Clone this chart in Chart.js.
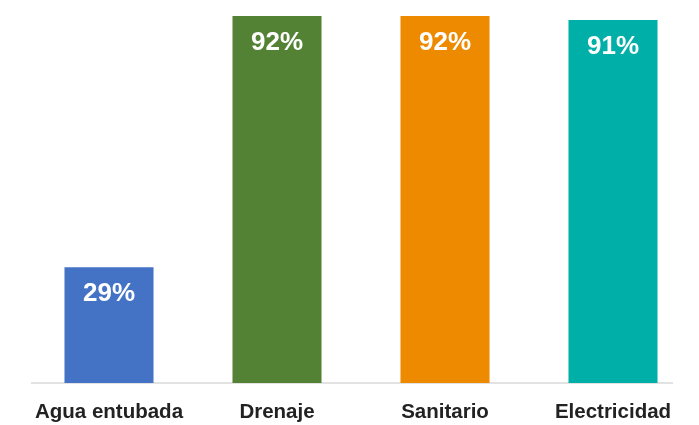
<!DOCTYPE html>
<html>
<head>
<meta charset="utf-8">
<script src="https://cdn.jsdelivr.net/npm/chart.js@4"></script>
<style>
  html, body { margin: 0; padding: 0; background: #ffffff; }
  #wrap { width: 699px; height: 425px; position: relative; }
</style>
</head>
<body>
<div id="wrap"><canvas id="c" width="699" height="425"></canvas></div>
<script>
const categories = ["Agua entubada", "Drenaje", "Sanitario", "Electricidad"];
const values = [29, 92, 92, 91];
const barColors = ["#4472C4", "#548235", "#EE8A00", "#00AFA8"];
const valueLabels = ["29%", "92%", "92%", "91%"];

const valueLabelPlugin = {
  id: "valueLabels",
  afterDatasetsDraw(chart) {
    const ctx = chart.ctx;
    const meta = chart.getDatasetMeta(0);
    ctx.save();
    ctx.fillStyle = "#ffffff";
    ctx.font = "bold 26px 'Liberation Sans', Arial, sans-serif";
    ctx.textAlign = "center";
    ctx.textBaseline = "middle";
    meta.data.forEach((bar, i) => {
      ctx.fillText(valueLabels[i], bar.x, bar.y + 27);
    });
    ctx.restore();
  }
};

const baselinePlugin = {
  id: "baseline",
  beforeDatasetsDraw(chart) {
    const ctx = chart.ctx;
    const y = chart.scales.y.getPixelForValue(0);
    const area = chart.chartArea;
    ctx.save();
    ctx.strokeStyle = "#d9d9d9";
    ctx.lineWidth = 1.5;
    ctx.beginPath();
    ctx.moveTo(area.left + 6, y);
    ctx.lineTo(area.right - 24, y);
    ctx.stroke();
    ctx.restore();
  }
};

new Chart(document.getElementById("c"), {
  type: "bar",
  data: {
    labels: categories,
    datasets: [{
      data: values,
      backgroundColor: barColors,
      borderWidth: 0,
      barPercentage: 0.53,
      categoryPercentage: 1.0
    }]
  },
  options: {
    responsive: false,
    animation: false,
    devicePixelRatio: 1,
    layout: { padding: { left: 25, right: 2, top: 16, bottom: -16.5 } },
    plugins: { legend: { display: false }, tooltip: { enabled: false } },
    scales: {
      x: {
        grid: { display: false, drawTicks: false },
        border: { display: false },
        ticks: {
          color: "#222222",
          font: { family: "'Liberation Sans', Arial, sans-serif", size: 20.5, weight: "bold", lineHeight: 1.0 },
          padding: 19,
          maxRotation: 0,
          autoSkip: false
        }
      },
      y: {
        display: false,
        min: 0,
        max: 92
      }
    }
  },
  plugins: [valueLabelPlugin, baselinePlugin]
});
</script>
</body>
</html>
